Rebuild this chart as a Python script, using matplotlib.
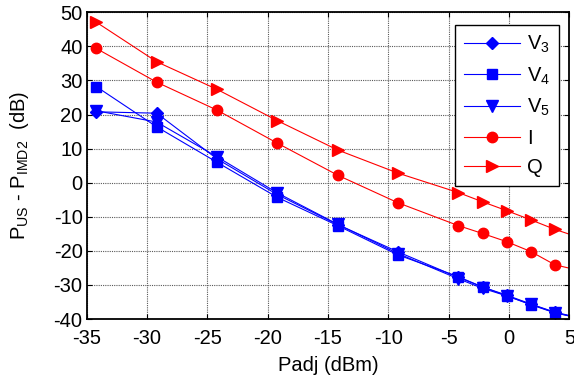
import matplotlib
matplotlib.use("Agg")
import matplotlib.pyplot as plt

plt.rcParams['font.family'] = ['Liberation Sans', 'DejaVu Sans']
plt.rcParams['mathtext.fontset'] = 'custom'
plt.rcParams['mathtext.rm'] = 'Liberation Sans'
plt.rcParams['mathtext.it'] = 'Liberation Sans:italic'
plt.rcParams['axes.unicode_minus'] = False

# Data (last point lies beyond the visible x range; line continues to edge)
padj = [-34.2, -29.2, -24.2, -19.2, -14.2, -9.2, -4.2, -2.2, -0.2, 1.8, 3.8, 6.0]
v3 = [20.8, 20.4, 7.0, -3.5, -12.3, -20.3, -27.8, -30.6, -33.0, -35.6, -38.0, -39.8]
v4 = [28.2, 16.4, 6.0, -4.3, -12.6, -21.2, -27.6, -30.6, -33.2, -35.8, -38.2, -39.9]
v5 = [21.1, 17.8, 7.6, -3.0, -12.2, -20.8, -28.2, -31.0, -33.2, -35.7, -38.1, -39.9]
i_ser = [39.4, 29.5, 21.3, 11.6, 2.2, -5.9, -12.6, -14.9, -17.3, -20.2, -24.1, -25.9]
q_ser = [47.1, 35.5, 27.4, 18.2, 9.6, 2.8, -2.9, -5.6, -8.2, -10.9, -13.7, -16.3]

labels = [r'V$_\mathregular{3}$', r'V$_\mathregular{4}$', r'V$_\mathregular{5}$', 'I', 'Q']
xticks = [-35, -30, -25, -20, -15, -10, -5, 0, 5]
yticks = [-40, -30, -20, -10, 0, 10, 20, 30, 40, 50]

fig = plt.figure(figsize=(5.74, 3.79), dpi=100)
ax = fig.add_axes([0.151, 0.1583, 0.841, 0.8092])

blue = '#0000ff'
red = '#ff0000'
lw = 0.8
fs = 14.5
ax.plot(padj, v3, color=blue, lw=lw, marker='D', ms=6, label=labels[0])
ax.plot(padj, v4, color=blue, lw=lw, marker='s', ms=7, label=labels[1])
ax.plot(padj, v5, color=blue, lw=lw, marker='v', ms=8, label=labels[2])
ax.plot(padj, i_ser, color=red, lw=lw, marker='o', ms=7.5, label=labels[3])
ax.plot(padj, q_ser, color=red, lw=lw, marker='>', ms=8.5, label=labels[4])

ax.set_xlim(-35, 5)
ax.set_ylim(-40, 50)
ax.set_xticks(xticks)
ax.set_yticks(yticks)
ax.tick_params(direction='in', top=True, right=True, length=3.5, width=0.8,
               labelsize=fs)
ax.tick_params(axis='x', pad=7)
ax.tick_params(axis='y', pad=3)
ax.grid(True, color='0.35', linestyle=(0, (1, 1)), lw=0.8)
for s in ax.spines.values():
    s.set_linewidth(1.3)

ax.set_xlabel('Padj (dBm)', fontsize=fs, labelpad=6)
ax.set_ylabel(r'P$_\mathregular{US}$ - P$_\mathregular{IMD2}$  (dB)', fontsize=fs, labelpad=16)

leg = ax.legend(loc='upper right', bbox_to_anchor=(0.979, 0.96), fontsize=fs,
                handlelength=2.8, handletextpad=0.35, borderpad=0.45,
                labelspacing=0.52, fancybox=False, framealpha=1,
                edgecolor='black', borderaxespad=0)
leg.get_frame().set_linewidth(1.0)

fig.savefig('out.png', dpi=100)
